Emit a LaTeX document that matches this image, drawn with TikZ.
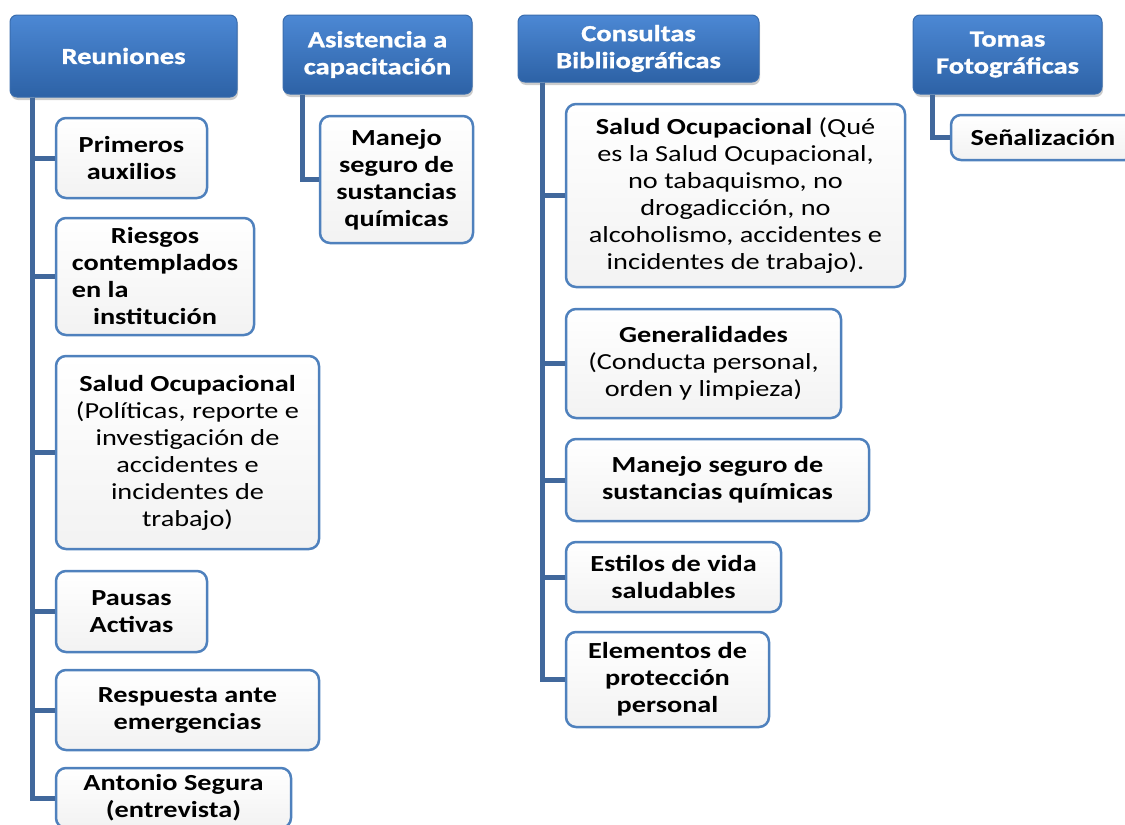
\documentclass[tikz,border=0pt]{standalone}
\usepackage{fontspec}
\setmainfont{Carlito}[FakeStretch=1.23]
\newfontfamily\headfont{Carlito}[FakeStretch=1.24, BoldFeatures={FakeBold=1.2}]
\usetikzlibrary{shadows}

\definecolor{hdtop}{HTML}{4C88D4}
\definecolor{hdbot}{HTML}{2D62A6}
\definecolor{hdline}{HTML}{3A6DAE}
\definecolor{itline}{HTML}{4F81BD}
\definecolor{lnk}{HTML}{41689C}

\newcommand{\boxfont}{\fontsize{23}{27}\selectfont}

\tikzset{
    head/.style={rectangle, rounded corners=7pt, draw=hdline, line width=1pt,
        top color=hdtop, bottom color=hdbot, text=white,
        font=\boxfont\headfont\bfseries, align=center, inner sep=0pt,
        drop shadow={shadow xshift=1pt, shadow yshift=-3pt, opacity=.4}},
    leaf/.style={rectangle, rounded corners=10pt, draw=itline, line width=2.5pt,
        top color=white, bottom color=gray!10,
        font=\boxfont\bfseries, align=center, inner sep=0pt},
    leafmix/.style={leaf, font=\boxfont},
    link/.style={draw=lnk, line width=5pt}
}

\begin{document}
\begin{tikzpicture}[x=1pt, y=-1pt]
        \useasboundingbox (0,0) rectangle (1125,825);

        % Headers
        \node[head, minimum width=227, minimum height=82] (h1) at (123.5,56) {Reuniones};
        \node[head, minimum width=189, minimum height=79] (h2) at (377.5,54.5) {Asistencia a\\capacitación};
        \node[head, minimum width=241, minimum height=67] (h3) at (638.5,48.5) {Consultas\\Bibliiográficas};
        \node[head, minimum width=189, minimum height=79] (h4) at (1007.5,54.5) {Tomas\\Fotográficas};

        % Reuniones
        \node[leaf, minimum width=151, minimum height=80] (r1) at (131.5,158) {Primeros\\auxilios};
        \node[leaf, minimum width=198, minimum height=117] (r2) at (155,276.5)
            {Riesgos\\contemplados\\\makebox[0pt][l]{en la}\phantom{contemplados}\\institución};
        \node[leafmix, minimum width=263, minimum height=193] (r3) at (187.5,452.5)
            {\textbf{Salud Ocupacional}\\(Políticas, reporte e\\investigación de\\accidentes e\\incidentes de\\trabajo)};
        \node[leaf, minimum width=151, minimum height=81] (r4) at (131.5,611.5) {Pausas\\Activas};
        \node[leaf, minimum width=263, minimum height=80] (r5) at (187.5,710) {Respuesta ante\\emergencias};
        \node[leaf, minimum width=235, minimum height=60] (r6) at (173.5,798) {Antonio Segura\\(entrevista)};

        % Asistencia a capacitacion
        \node[leaf, minimum width=153, minimum height=127] (a1) at (396.5,179.5) {Manejo\\seguro de\\sustancias\\químicas};

        % Consultas
        \node[leafmix, minimum width=339, minimum height=183] (c1) at (735.5,195.5)
            {\textbf{Salud Ocupacional} (Qué\\es la Salud Ocupacional,\\no tabaquismo, no\\drogadicción, no\\alcoholismo, accidentes e\\incidentes de trabajo).};
        \node[leafmix, minimum width=275, minimum height=109] (c2) at (703.5,363.5)
            {\textbf{Generalidades}\\(Conducta personal,\\orden y limpieza)};
        \node[leaf, minimum width=303, minimum height=82] (c3) at (717.5,480) {Manejo seguro de\\sustancias químicas};
        \node[leaf, minimum width=215, minimum height=70] (c4) at (673.5,577) {Estilos de vida\\saludables};
        \node[leaf, minimum width=203, minimum height=95] (c5) at (667.5,679.5) {Elementos de\\protección\\personal};

        % Tomas
        \node[leaf, minimum width=184, minimum height=45] (t1) at (1043,137.5) {Señalización};

        % connectors
        \foreach \c in {r1,r2,r3,r4,r5,r6}
            \draw[link] ([xshift=23pt]h1.south west) |- (\c.west);
        \draw[link] ([xshift=20pt]h2.south west) |- (a1.west);
        \foreach \c in {c1,c2,c3,c4,c5}
            \draw[link] ([xshift=25pt]h3.south west) |- (\c.west);
        \draw[link] ([xshift=20pt]h4.south west) |- (t1.west);

    \end{tikzpicture}
\end{document}
